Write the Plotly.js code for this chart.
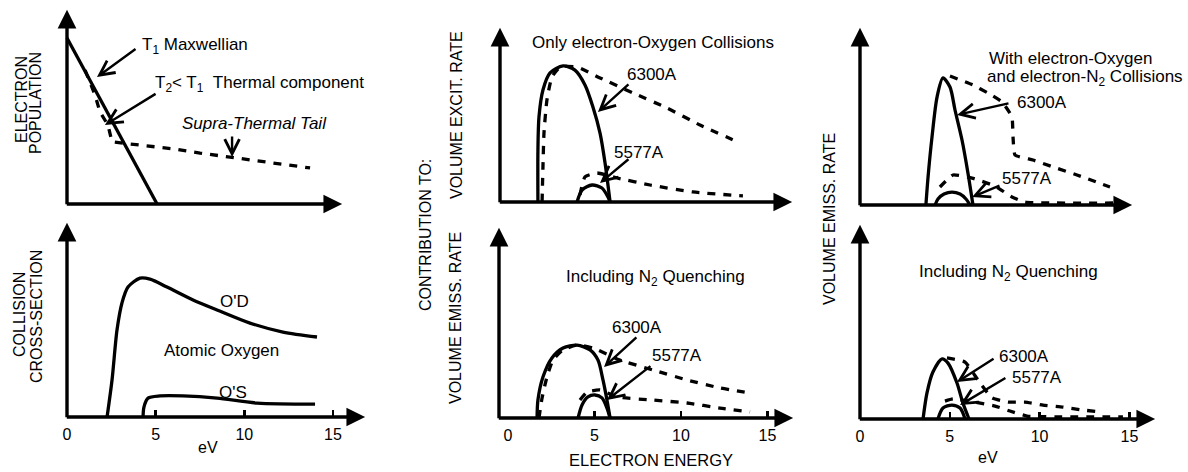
<!DOCTYPE html>
<html><head><meta charset="utf-8">
<script src="https://cdn.plot.ly/plotly-3.0.1.min.js"></script>
<style>html,body{margin:0;padding:0;background:#fff;}#chart{width:1188px;height:472px;}</style>
</head><body><div id="chart"></div>
<script>
// ---------------- DATA (x in eV, y in arbitrary units 0-10) ----------------
const tickVals = [0, 5, 10, 15];
const tickText = ['0', '5', '10', '15'];
const minorTickVals = [5, 10, 15];

// Panel 1 : electron population
const maxwellEV  = [0, 5.08];
const maxwellPop = [8.34, 0];
const thermalEV  = [1.02, 1.58, 1.86, 2.31, 2.54, 4.12, 6.09, 7.50, 9.19, 11.45, 13.71];
const thermalPop = [6.73, 5.48, 4.62, 3.97, 3.12, 2.96, 2.76, 2.56, 2.36, 2.11, 1.81];

// Panel 2 : collision cross-sections, atomic oxygen
const o1dEV = [2.26, 2.54, 2.82, 3.10, 3.44, 4.12, 4.68, 5.64, 7.11, 8.46, 10.32, 12.18, 14.10];
const o1dXS = [0, 1.86, 4.37, 5.73, 6.53, 6.98, 6.93, 6.53, 5.88, 5.38, 4.72, 4.27, 4.02];
const o1sEV = [4.29, 4.34, 4.57, 5.25, 6.54, 8.46, 10.72, 13.99];
const o1sXS = [0, 0.50, 0.95, 1.06, 1.06, 0.95, 0.70, 0.65];

// Panel 3 : volume excitation rate, only electron-oxygen collisions
const p3Solid6300EV = [1.73, 1.73, 1.79, 2.02, 2.43, 3.18, 3.87, 4.45, 4.91, 5.32, 5.61, 5.90];
const p3Solid6300   = [0, 2.91, 4.75, 6.26, 7.21, 7.60, 7.37, 6.54, 5.31, 3.85, 2.18, 0];
const p3Dash6300EV  = [1.97, 2.02, 2.08, 2.25, 2.54, 3.01, 3.99, 5.32, 7.23, 9.19, 11.10, 13.41];
const p3Dash6300    = [0, 1.96, 3.85, 5.70, 6.98, 7.54, 7.54, 6.93, 6.09, 5.25, 4.30, 3.30];
const p3Solid5577EV = [3.99, 4.28, 4.86, 5.43, 5.78, 5.90];
const p3Solid5577   = [0, 0.67, 0.95, 0.78, 0.28, 0];
const p3Dash5577EV  = [4.16, 4.45, 5.14, 6.30, 8.21, 10.69, 13.58];
const p3Dash5577    = [0.39, 1.40, 1.62, 1.34, 0.95, 0.56, 0.34];

// Panel 4 : volume emission rate, including N2 quenching
const p4Solid6300EV = [1.68, 1.73, 2.02, 2.54, 3.18, 3.99, 4.74, 5.20, 5.49, 5.72, 5.90];
const p4Solid6300   = [0, 0.92, 2.10, 3.08, 3.59, 3.74, 3.49, 2.97, 1.95, 0.92, 0];
const p4Dash6300EV  = [1.79, 1.97, 2.25, 2.60, 3.18, 3.99, 4.91, 6.47, 8.38, 10.35, 12.25, 13.99];
const p4Dash6300    = [0, 1.03, 2.10, 2.97, 3.49, 3.74, 3.59, 2.97, 2.46, 1.95, 1.54, 1.28];
const p4Solid5577EV = [4.05, 4.28, 4.62, 5.03, 5.43, 5.72, 5.90];
const p4Solid5577   = [0, 0.67, 1.08, 1.18, 1.03, 0.51, 0];
const p4Dash5577EV  = [4.16, 4.57, 5.32, 6.30, 8.38, 10.35, 12.25, 13.99];
const p4Dash5577    = [0.92, 1.33, 1.44, 1.08, 0.92, 0.77, 0.51, 0.31];

// Panel 5 : volume emission rate, with electron-O and electron-N2 collisions
const p5Solid6300EV = [3.67, 3.79, 4.01, 4.29, 4.62, 5.01, 5.29, 5.68, 6.01, 6.29];
const p5Solid6300   = [0, 1.54, 3.74, 5.93, 6.98, 6.48, 5.22, 3.57, 1.76, 0];
const p5Dash6300EV  = [5.01, 6.29, 7.13, 7.91, 8.46, 8.52, 8.63, 9.63, 10.75, 12.08, 13.92];
const p5Dash6300    = [7.09, 6.59, 6.15, 5.66, 4.84, 3.74, 2.75, 2.47, 2.09, 1.65, 0.99];
const p5Solid5577EV = [4.18, 4.34, 4.68, 5.12, 5.57, 5.90, 6.12];
const p5Solid5577   = [0, 0.33, 0.60, 0.71, 0.60, 0.33, 0];
const p5Dash5577EV  = [4.45, 5.18, 6.24, 7.52, 8.46, 9.19, 14.09];
const p5Dash5577    = [0.99, 1.65, 1.48, 1.04, 0.44, 0.16, 0.11];

// Panel 6 : volume emission rate, including N2 quenching
const p6Solid6300EV = [3.51, 3.73, 4.06, 4.57, 4.90, 5.40, 5.73, 6.07];
const p6Solid6300   = [0, 1.31, 2.36, 3.02, 2.81, 1.81, 0.80, 0];
const p6Dash6300EV  = [4.84, 5.85, 6.57, 7.35, 8.24, 9.19, 10.19, 11.30, 12.42, 13.47];
const p6Dash6300    = [3.07, 2.86, 1.96, 1.06, 0.85, 0.85, 0.70, 0.60, 0.45, 0.35];
const p6Solid5577EV = [4.34, 4.62, 5.12, 5.57, 5.85];
const p6Solid5577   = [0, 0.55, 0.70, 0.55, 0];
const p6Dash5577EV  = [4.73, 5.18, 6.40, 7.52, 8.35, 9.30, 14.64];
const p6Dash5577    = [0.90, 1.01, 0.85, 0.65, 0.40, 0.15, 0.10];

// ---------------- LAYOUT HELPERS ----------------
const W = 1188, H = 472, PAD = 10;
const FONT = 'Liberation Sans, Arial, Helvetica, sans-serif';
const BLACK = '#000';
// panel frames in page pixels
const panels = [
  {x0: 67,  xs: 17.73, axisX: 67,  tipX: 347,  base: 204, tipY: 5,   ticks: false},
  {x0: 67,  xs: 17.73, axisX: 67,  tipX: 370,  base: 417, tipY: 218, ticks: true},
  {x0: 508, xs: 17.3,  axisX: 500, tipX: 797,  base: 202, tipY: 23,  ticks: false},
  {x0: 508, xs: 17.3,  axisX: 499, tipX: 798,  base: 418, tipY: 223, ticks: true},
  {x0: 860, xs: 17.96, axisX: 860, tipX: 1137, base: 205, tipY: 23,  ticks: false},
  {x0: 860, xs: 17.96, axisX: 860, tipX: 1160, base: 419, tipY: 220, ticks: true}
];
const AX_W = 3.4, AX_S = 1.1, HEAD_OVER = 1.3 * AX_W * AX_S;

const layout = {
  width: W, height: H, margin: {l: 0, r: 0, t: 0, b: 0, pad: 0},
  paper_bgcolor: '#fff', plot_bgcolor: 'rgba(0,0,0,0)', showlegend: false,
  font: {family: FONT, color: BLACK, size: 16},
  annotations: []
};

function ref(i, a) { return a + (i === 1 ? '' : i); }

panels.forEach((p, k) => {
  const i = k + 1;
  const ys = (p.base - p.tipY) / 10;
  const L = Math.max(0, p.axisX - PAD), R = Math.min(W, p.tipX + PAD);
  const T = Math.max(0, p.tipY - PAD), B = Math.min(H, p.base + PAD);
  p.ys = ys;
  const xa = {
    domain: [L / W, R / W],
    range: [(L - p.x0) / p.xs, (R - p.x0) / p.xs],
    showgrid: false, zeroline: false, showline: false, fixedrange: true,
    anchor: 'free', position: 1 - p.base / H
  };
  if (p.ticks) {
    Object.assign(xa, {
      tickmode: 'array', tickvals: tickVals, ticktext: tickText,
      ticks: 'outside', ticklen: 0, tickwidth: 0,
      tickfont: {family: FONT, size: 16, color: BLACK},
      ticklabelstandoff: 3,
      minor: {tickmode: 'array', tickvals: minorTickVals, ticks: 'inside',
              ticklen: 7, tickwidth: 2.5, tickcolor: BLACK}
    });
  } else {
    Object.assign(xa, {showticklabels: false, ticks: ''});
  }
  layout[ref(i, 'xaxis')] = xa;
  layout[ref(i, 'yaxis')] = {
    domain: [1 - B / H, 1 - T / H],
    range: [(p.base - B) / ys, (p.base - T) / ys],
    visible: false, fixedrange: true, anchor: ref(i, 'x')
  };
  const xAxisData = (p.axisX - p.x0) / p.xs;
  const axisArrow = {
    xref: ref(i, 'x'), yref: ref(i, 'y'), axref: ref(i, 'x'), ayref: ref(i, 'y'),
    text: '', showarrow: true, arrowhead: 2, arrowsize: AX_S, arrowwidth: AX_W, arrowcolor: BLACK
  };
  // horizontal axis with arrow
  layout.annotations.push(Object.assign({}, axisArrow, {
    x: (p.tipX - HEAD_OVER - p.x0) / p.xs, y: 0,
    ax: (p.axisX - 1.7 - p.x0) / p.xs, ay: 0
  }));
  // vertical axis with arrow
  layout.annotations.push(Object.assign({}, axisArrow, {
    x: xAxisData, y: (p.base - p.tipY - HEAD_OVER) / ys,
    ax: xAxisData, ay: -1.7 / ys
  }));
});

// ---------------- TRACES ----------------
const traces = [];
function line(i, xs, ys, dashed, shape, smooth) {
  traces.push({
    type: 'scatter', mode: 'lines', x: xs, y: ys,
    xaxis: ref(i, 'x'), yaxis: ref(i, 'y'), hoverinfo: 'skip',
    line: {color: BLACK, width: 3.3, dash: dashed ? '8px,8px' : 'solid',
           shape: shape || 'spline', smoothing: smooth === undefined ? 0.8 : smooth}
  });
}
line(1, maxwellEV, maxwellPop, false, 'linear');
line(1, thermalEV, thermalPop, true, 'linear');
line(2, o1dEV, o1dXS, false);
line(2, o1sEV, o1sXS, false);
line(3, p3Solid6300EV, p3Solid6300, false);
line(3, p3Dash6300EV, p3Dash6300, true, 'spline', 0.5);
line(3, p3Solid5577EV, p3Solid5577, false);
line(3, p3Dash5577EV, p3Dash5577, true, 'spline', 0.5);
line(4, p4Solid6300EV, p4Solid6300, false);
line(4, p4Dash6300EV, p4Dash6300, true, 'spline', 0.5);
line(4, p4Solid5577EV, p4Solid5577, false);
line(4, p4Dash5577EV, p4Dash5577, true, 'spline', 0.5);
line(5, p5Solid6300EV, p5Solid6300, false);
line(5, p5Dash6300EV, p5Dash6300, true, 'spline', 0.4);
line(5, p5Solid5577EV, p5Solid5577, false);
line(5, p5Dash5577EV, p5Dash5577, true, 'spline', 0.4);
line(6, p6Solid6300EV, p6Solid6300, false);
line(6, p6Dash6300EV, p6Dash6300, true, 'spline', 0.4);
line(6, p6Solid5577EV, p6Solid5577, false);
line(6, p6Dash5577EV, p6Dash5577, true, 'spline', 0.4);

// ---------------- TEXT LABELS (page pixel positions) ----------------
function txt(text, xpx, ypx, size, opt) {
  opt = opt || {};
  layout.annotations.push({
    text: text, xref: 'paper', yref: 'paper', x: xpx / W, y: 1 - ypx / H,
    xanchor: opt.anchor || 'center', yanchor: 'middle', showarrow: false,
    textangle: opt.angle || 0, font: {family: FONT, size: size, color: BLACK}
  });
}
const TS = 17, AS = 16;
// axis titles
txt('ELECTRON', 21, 100, AS, {angle: -90});
txt('POPULATION', 36, 103, AS, {angle: -90});
txt('COLLISION', 19, 315, AS, {angle: -90});
txt('CROSS-SECTION', 36, 317, AS, {angle: -90});
txt('CONTRIBUTION TO:', 425, 235, AS, {angle: -90});
txt('VOLUME EXCIT. RATE', 456, 115, AS, {angle: -90});
txt('VOLUME EMISS. RATE', 455, 318, AS, {angle: -90});
txt('VOLUME EMISS. RATE', 829, 219, AS, {angle: -90});
txt('eV', 208, 447, AS);
txt('ELECTRON ENERGY', 651, 460, 16.5);
txt('eV', 988, 457, AS);
// panel 1
txt('T<sub>1</sub> Maxwellian', 140, 46, TS, {anchor: 'left'});
txt('T<sub>2</sub>&lt; T<sub>1</sub> &nbsp;Thermal component', 153, 84, TS, {anchor: 'left'});
txt('<i>Supra-Thermal Tail</i>', 254, 123, TS);
// panel 2
txt("O'D", 234, 301, TS);
txt('Atomic Oxygen', 221, 350, TS);
txt("O'S", 233, 392, TS);
// panel 3
txt('Only electron-Oxygen Collisions', 653, 43, TS);
txt('6300A', 652, 74, TS);
txt('5577A', 639, 152, TS);
// panel 4
txt('Including N<sub>2</sub> Quenching', 655, 278, TS);
txt('6300A', 637, 327, TS);
txt('5577A', 677, 355, TS);
// panel 5
txt('With electron-Oxygen', 987, 58, TS, {anchor: 'left'});
txt('and electron-N<sub>2</sub> Collisions', 985, 78, TS, {anchor: 'left'});
txt('6300A', 1015, 103, TS, {anchor: 'left'});
txt('5577A', 1000, 178, TS, {anchor: 'left'});
// panel 6
txt('Including N<sub>2</sub> Quenching', 1008, 273, TS);
txt('6300A', 997, 356, TS, {anchor: 'left'});
txt('5577A', 1010, 377, TS, {anchor: 'left'});

// ---------------- CALLOUT ARROWS (data coordinates: [tail], [head]) ----------------
const callouts = [
  [1, [3.95, 7.84], [1.69, 6.38]],
  [1, [5.08, 5.58], [2.14, 3.97]],
  [1, [9.31, 3.47], [9.31, 2.36]],
  [3, [7.05, 6.65], [5.20, 5.03]],
  [3, [7.05, 2.46], [5.32, 1.06]],
  [4, [7.51, 4.21], [5.55, 2.62]],
  [4, [8.32, 2.72], [5.72, 0.92]],
  [5, [8.35, 5.60], [5.40, 4.95]],
  [5, [7.85, 1.10], [6.24, 0.44]],
  [6, [7.52, 3.07], [5.40, 1.86]],
  [6, [8.18, 2.11], [5.57, 0.70]]
];
callouts.forEach(c => {
  const i = c[0];
  layout.annotations.push({
    xref: ref(i, 'x'), yref: ref(i, 'y'), axref: ref(i, 'x'), ayref: ref(i, 'y'),
    x: c[2][0], y: c[2][1], ax: c[1][0], ay: c[1][1], text: '',
    showarrow: true, arrowhead: 5, arrowsize: 1.2, arrowwidth: 2.4, arrowcolor: BLACK
  });
});

Plotly.newPlot('chart', traces, layout, {staticPlot: true, displayModeBar: false});
</script>
</body></html>
